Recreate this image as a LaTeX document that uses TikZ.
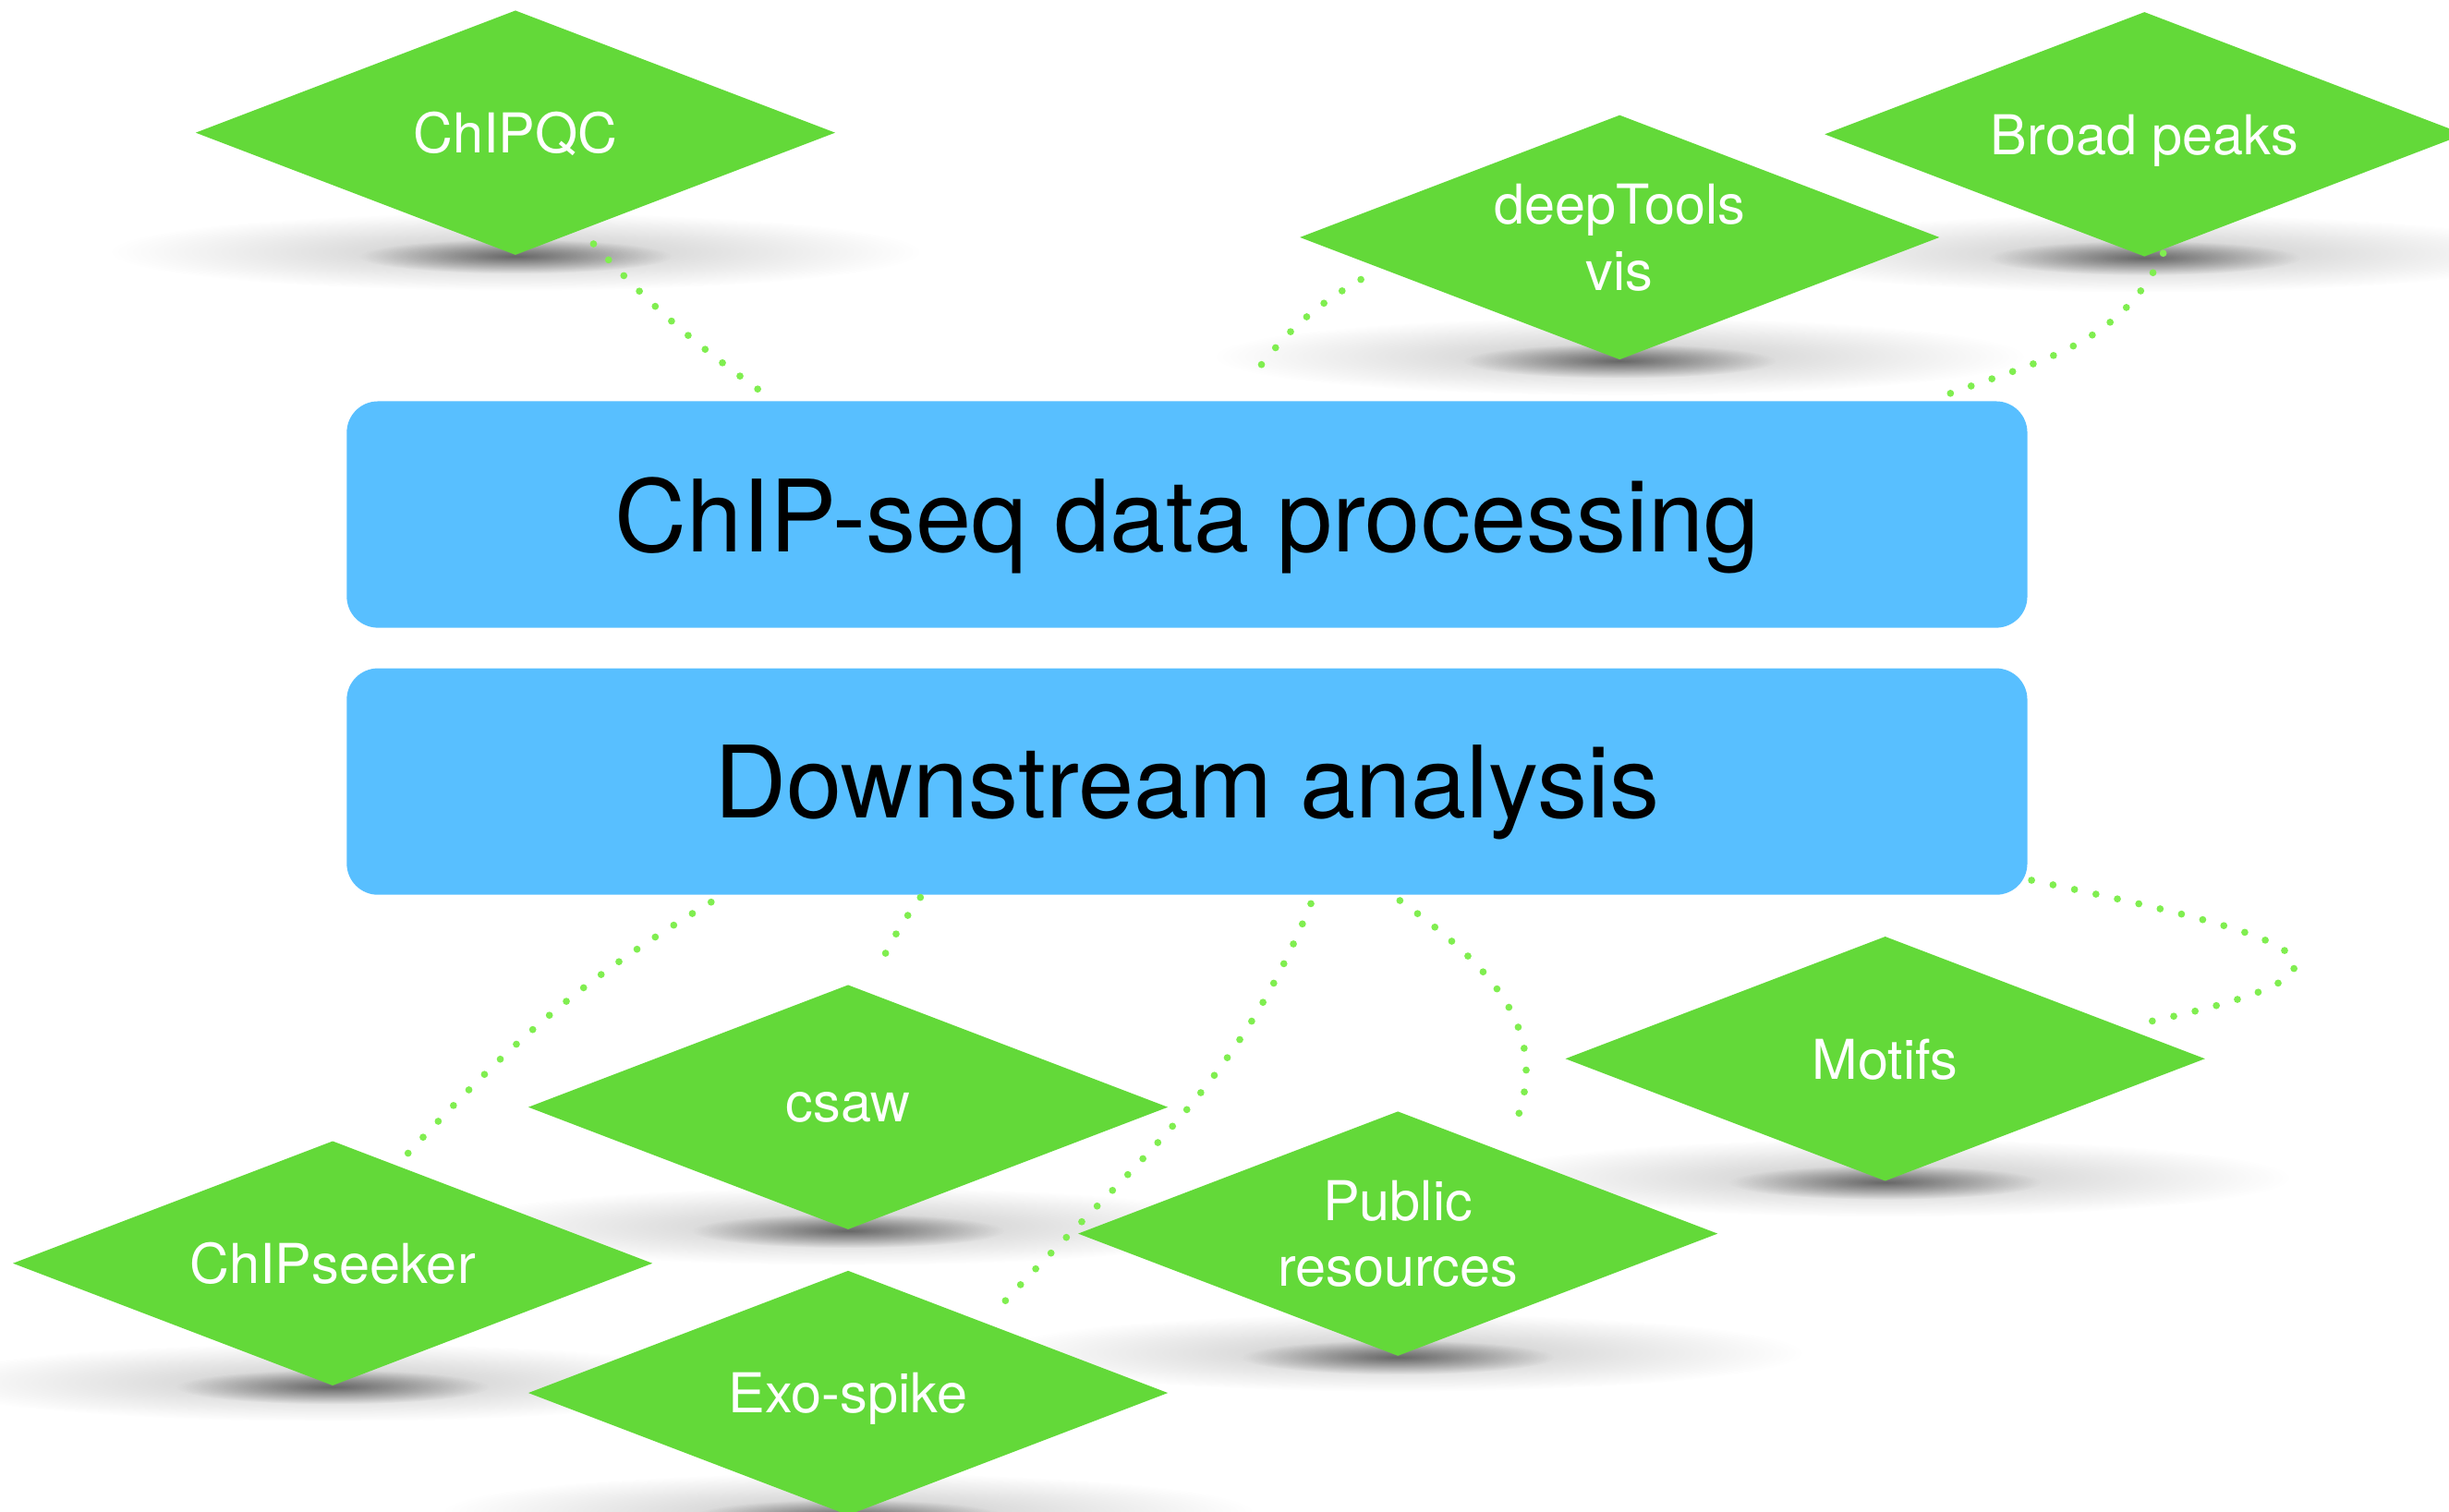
\documentclass[tikz,border=0pt]{standalone}
\usepackage{fontspec}
\setmainfont{TeX Gyre Heros}
\usetikzlibrary{shapes.geometric, fadings, backgrounds}

\definecolor{toolgreen}{RGB}{99,217,57}
\definecolor{stageblue}{RGB}{88,191,255}
\definecolor{linkgreen}{RGB}{128,238,80}

\tikzfading[name=softshadow, inner color=transparent!0, outer color=transparent!100]

\begin{document}
\begin{tikzpicture}[
    tool/.style = {
        diamond,
        fill = toolgreen,
        aspect = 2.61,
        minimum width = 4.1cm,
        minimum height = 1.57cm,
        inner sep = 0pt,
        text = white,
        text depth = 0pt,
        font = \fontsize{10}{12}\selectfont,
        align = center
    },
    stage/.style = {
        rectangle,
        rounded corners = 0.2cm,
        fill = stageblue,
        minimum width = 10.76cm,
        minimum height = 1.45cm,
        text depth = 0pt,
        font = \fontsize{18.2}{22}\selectfont
    },
    link/.style = {linkgreen, line width = 1.3pt, line cap = round, dash pattern = on 0pt off 4pt},
    haze/.style = {black, opacity = 0.22, path fading = softshadow},
    core/.style = {black, opacity = 0.5, path fading = softshadow}
]
\useasboundingbox (0,0) rectangle (15.68,9.68);

% The two processing stages
\node[stage] (processing) at (7.60, 6.385) {ChIP-seq data processing};
\node[stage] (downstream) at (7.60, 4.675) {Downstream analysis};

% Tools above
\node[tool] (chipqc) at (3.30, 8.83) {ChIPQC};
\node[tool] (deeptools) at (10.37, 8.16) {deepTools\\vis};
\node[tool] (broadpeaks) at (13.73, 8.82) {Broad peaks};

% Tools below
\node[tool] (csaw) at (5.43, 2.59) {csaw};
\node[tool] (chipseeker) at (2.13, 1.59) {ChIPseeker};
\node[tool] (exospike) at (5.43, 0.76) {Exo-spike};
\node[tool] (public) at (8.95, 1.78) {Public\\resources};
\node[tool] (motifs) at (12.07, 2.90) {Motifs};

% Soft shadows under the tools
\begin{scope}[on background layer]
    \foreach \n in {chipqc, deeptools, broadpeaks, csaw, chipseeker, exospike, public, motifs} {
        \fill[haze] ([yshift=0.03cm]\n.south) ellipse (2.6cm and 0.25cm);
        \fill[core] (\n.south) ellipse (1.0cm and 0.11cm);
    }
\end{scope}

% Dotted links
\draw[link] ([xshift=0.50cm, yshift=0.08cm]chipqc.south) to[out=-47, in=144] ([xshift=2.64cm, yshift=0.07cm]processing.north west);
\draw[link] ([xshift=0.40cm, yshift=-0.27cm]deeptools.west) to[out=210, in=53] ([xshift=5.78cm, yshift=0.12cm]processing.north west);
\draw[link] ([xshift=0.12cm, yshift=0.03cm]broadpeaks.south) to[out=-115, in=20] ([xshift=-0.51cm, yshift=0.04cm]processing.north east);

\draw[link] ([xshift=2.34cm, yshift=-0.04cm]downstream.south west) to[out=211, in=47] ([xshift=0.48cm, yshift=-0.09cm]chipseeker.north);
\draw[link] ([xshift=3.68cm, yshift=-0.01cm]downstream.south west) to[out=234, in=65] ([xshift=0.18cm, yshift=0.07cm]csaw.north);
\draw[link] ([xshift=6.18cm, yshift=-0.05cm]downstream.south west) to[out=248, in=47] ([xshift=0.99cm, yshift=-0.22cm]exospike.north);
\draw[link] ([xshift=6.75cm, yshift=-0.03cm]downstream.south west) to[out=-36, in=66, looseness=1.1] ([xshift=0.73cm, yshift=-0.14cm]public.north);
\draw[link] ([xshift=0.02cm, yshift=0.10cm]downstream.south east) to[out=-12, in=12, looseness=3.8] ([xshift=-0.40cm, yshift=0.23cm]motifs.east);

\end{tikzpicture}
\end{document}
